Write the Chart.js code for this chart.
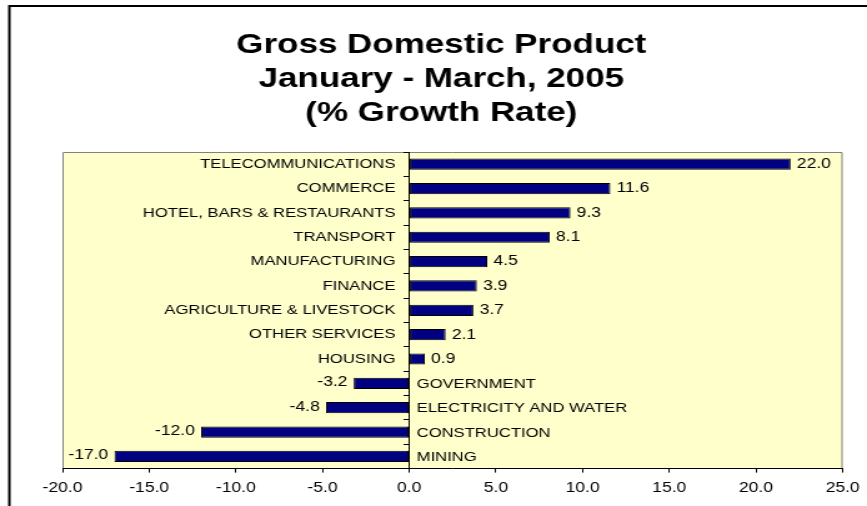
<!DOCTYPE html>
<html><head><meta charset="utf-8">
<script src="https://cdn.jsdelivr.net/npm/chart.js@4"></script>
<style>
html,body{margin:0;padding:0;background:#fff;overflow:hidden;}
#wrap{width:867px;height:506px;overflow:hidden;position:relative;}
canvas{display:block;transform-origin:0 0;transform:scaleX(1.24928);}
</style></head><body>
<div id="wrap"><canvas id="c" width="694" height="506"></canvas></div>
<script>
const titleLines = ['Gross Domestic Product', 'January - March, 2005', '(% Growth Rate)'];
const categories = ['TELECOMMUNICATIONS', 'COMMERCE', 'HOTEL, BARS & RESTAURANTS', 'TRANSPORT',
  'MANUFACTURING', 'FINANCE', 'AGRICULTURE & LIVESTOCK', 'OTHER SERVICES', 'HOUSING',
  'GOVERNMENT', 'ELECTRICITY AND WATER', 'CONSTRUCTION', 'MINING'];
const growth = [22.0, 11.6, 9.3, 8.1, 4.5, 3.9, 3.7, 2.1, 0.9, -3.2, -4.8, -12.0, -17.0];
const xTicks = [-20, -15, -10, -5, 0, 5, 10, 15, 20, 25];

const FONT = '"Liberation Sans", Arial, sans-serif';

const decor = {
  id: 'decor',
  beforeDraw(chart) {
    const ctx = chart.ctx, a = chart.chartArea;
    ctx.save();
    ctx.fillStyle = '#ffffff';
    ctx.fillRect(0, 0, chart.width, chart.height);
    // outer frame
    ctx.strokeStyle = '#000000';
    ctx.lineWidth = 2;
    ctx.strokeRect(7.5, 6, chart.width + 20, chart.height + 20);
    // plot background
    ctx.fillStyle = '#FFFFCC';
    ctx.fillRect(a.left, a.top, a.right - a.left, a.bottom - a.top);
    ctx.strokeStyle = '#808080';
    ctx.lineWidth = 1;
    ctx.beginPath();
    ctx.moveTo(a.left + 0.5, a.bottom);
    ctx.lineTo(a.left + 0.5, a.top + 0.5);
    ctx.lineTo(a.right - 0.5, a.top + 0.5);
    ctx.lineTo(a.right - 0.5, a.bottom);
    ctx.stroke();
    // title
    ctx.fillStyle = '#000000';
    ctx.font = 'bold 28px ' + FONT;
    ctx.textAlign = 'center';
    ctx.textBaseline = 'middle';
    const cx = (a.left + a.right) / 2 - 9;
    titleLines.forEach((t, i) => ctx.fillText(t, cx, 45 + i * 34));
    ctx.restore();
  },
  afterDatasetsDraw(chart) {
    const ctx = chart.ctx;
    const xs = chart.scales.x, ys = chart.scales.y;
    const zero = xs.getPixelForValue(0);
    ctx.save();
    ctx.fillStyle = '#000000';
    ctx.textBaseline = 'middle';
    categories.forEach((c, i) => {
      const v = growth[i];
      const y = ys.getPixelForValue(i);
      const xe = xs.getPixelForValue(v);
      ctx.font = '13.3px ' + FONT;
      if (v >= 0) {
        ctx.textAlign = 'right';
        ctx.fillText(c, zero - 11, y);
      } else {
        ctx.textAlign = 'left';
        ctx.fillText(c, zero + 6, y + 1);
      }
      ctx.font = '14px ' + FONT;
      const s = v.toFixed(1);
      if (v >= 0) {
        ctx.textAlign = 'left';
        ctx.fillText(s, xe + 5, y);
      } else {
        ctx.textAlign = 'right';
        ctx.fillText(s, xe - 5, y - 1);
      }
    });
    ctx.restore();
  }
};

new Chart(document.getElementById('c'), {
  type: 'bar',
  data: {
    labels: categories,
    datasets: [{
      data: growth,
      backgroundColor: '#000080',
      borderColor: '#000000',
      borderWidth: 1,
      borderSkipped: false,
      barPercentage: 0.46,
      categoryPercentage: 1.0
    }]
  },
  options: {
    indexAxis: 'y',
    responsive: false,
    animation: false,
    devicePixelRatio: 1,
    layout: { padding: { top: 152, left: 50, right: 19.5, bottom: 3 } },
    plugins: { legend: { display: false }, title: { display: false }, tooltip: { enabled: false } },
    scales: {
      x: {
        type: 'linear',
        min: -20, max: 25,
        afterBuildTicks: s => { s.ticks = xTicks.map(v => ({ value: v })); },
        ticks: {
          callback: v => Number(v).toFixed(1),
          color: '#000000',
          font: { family: FONT, size: 14, lineHeight: 1.6 },
          padding: 4,
          maxRotation: 0,
          autoSkip: false
        },
        grid: { drawOnChartArea: false, drawTicks: true, tickLength: 4, color: '#000000' },
        border: { display: true, color: '#000000', width: 1 }
      },
      y: {
        type: 'category',
        position: { x: 0 },
        ticks: { display: false },
        grid: { drawOnChartArea: false, drawTicks: true, tickLength: 4, color: '#000000', offset: true },
        border: { display: true, color: '#000000', width: 1 }
      }
    }
  },
  plugins: [decor]
});
</script>
</body></html>
